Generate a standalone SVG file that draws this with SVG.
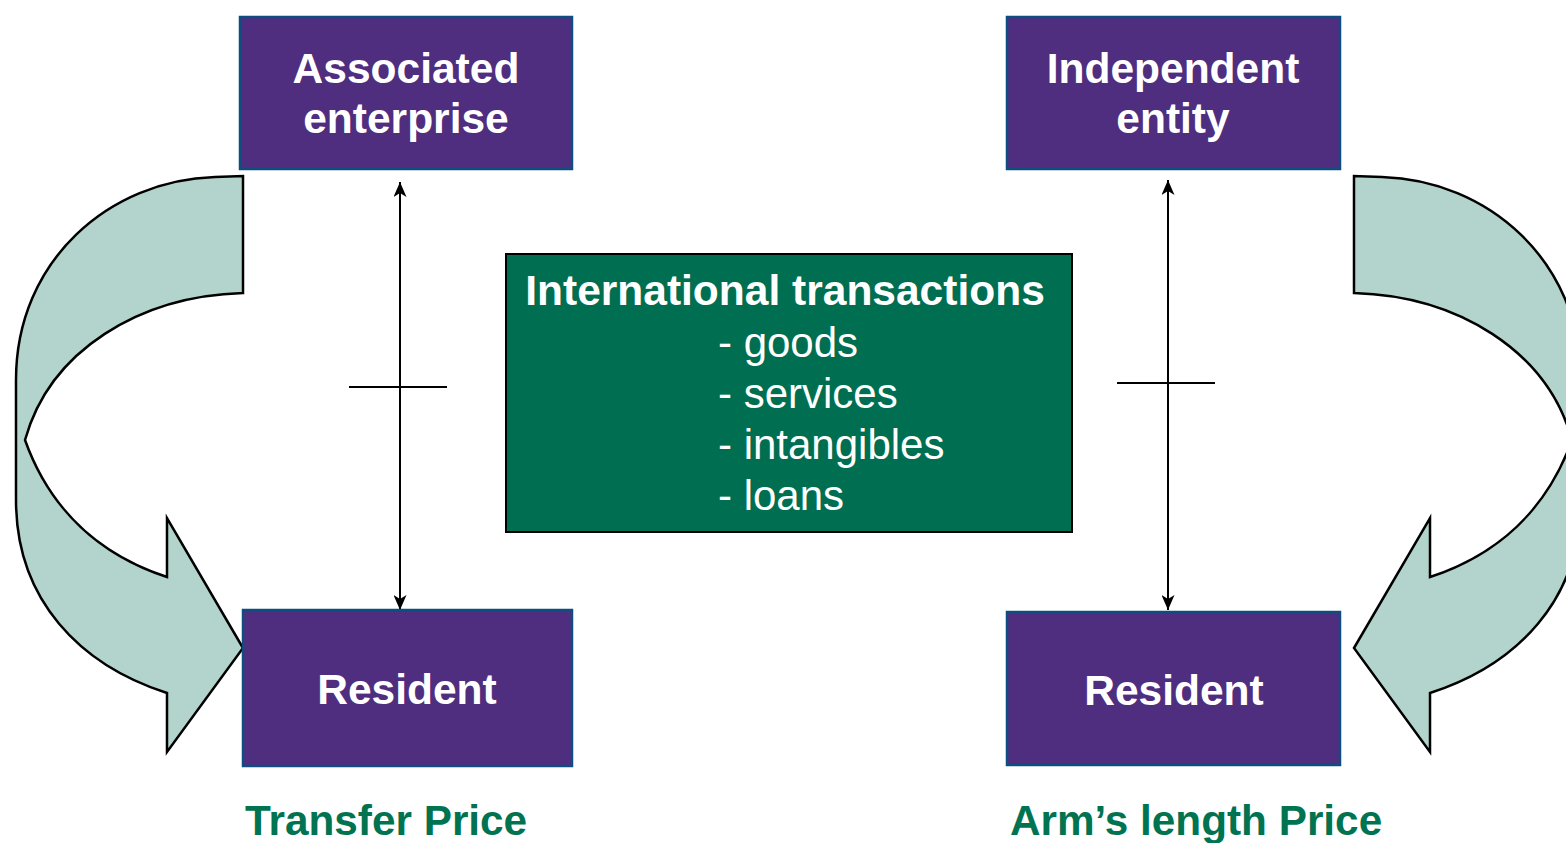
<svg xmlns="http://www.w3.org/2000/svg" width="1566" height="843" viewBox="0 0 1566 843">
<style>
.box{fill:#4F2D7F;stroke:#0E4D80;stroke-width:2.5}
.green{fill:#006F51;stroke:#000;stroke-width:2}
.t{font-family:"Liberation Sans",Arial,sans-serif;font-size:42px;fill:#fff}
.b{font-weight:bold;font-size:42.5px}
.lbl{font-family:"Liberation Sans",Arial,sans-serif;font-size:42.3px;font-weight:bold;fill:#007350}
.curve{fill:#B2D4CC;stroke:#000;stroke-width:2.5;stroke-linejoin:miter}
.conn{stroke:#000;stroke-width:2;fill:none}
</style>
<defs>
<marker id="ah" viewBox="0 0 15 13" refX="15" refY="6.5" markerWidth="15" markerHeight="13" markerUnits="userSpaceOnUse" orient="auto-start-reverse">
<path d="M0,0 L15,6.5 L0,13 L4,6.5 Z" fill="#000"/>
</marker>
<path id="carrow" d="M243,176 L243,293 C140,296 50,350 25,440 C50,510 100,555 167,577 L167,518 L243,648 L167,752 L167,693 C80,665 16,600 16,500 L16,380 C16,260 110,180 215,177 Z"/>
</defs>
<g id="curved-arrows">
<use href="#carrow" class="curve"/>
<use href="#carrow" class="curve" transform="translate(1597,0) scale(-1,1)"/>
</g>
<g id="connectors">
<line class="conn" x1="400" y1="182" x2="400" y2="610" marker-start="url(#ah)" marker-end="url(#ah)"/>
<line class="conn" x1="349" y1="387" x2="447" y2="387"/>
<line class="conn" x1="1168" y1="180" x2="1168" y2="610" marker-start="url(#ah)" marker-end="url(#ah)"/>
<line class="conn" x1="1117" y1="383" x2="1215" y2="383"/>
</g>
<g id="associated-enterprise">
<rect class="box" x="240" y="17" width="332" height="152"/>
<text class="t b" x="406" y="83" text-anchor="middle">Associated</text>
<text class="t b" x="406" y="133" text-anchor="middle">enterprise</text>
</g>
<g id="independent-entity">
<rect class="box" x="1007" y="17" width="333" height="152"/>
<text class="t b" x="1173" y="83" text-anchor="middle">Independent</text>
<text class="t b" x="1173" y="133" text-anchor="middle">entity</text>
</g>
<g id="resident-left">
<rect class="box" x="243" y="610" width="329" height="156"/>
<text class="t b" x="407" y="704" text-anchor="middle">Resident</text>
</g>
<g id="resident-right">
<rect class="box" x="1007" y="612" width="333" height="153"/>
<text class="t b" x="1174" y="705" text-anchor="middle">Resident</text>
</g>
<g id="international-transactions">
<rect class="green" x="506" y="254" width="566" height="278"/>
<text class="t b" x="785" y="305" text-anchor="middle">International transactions</text>
<text class="t" x="718" y="357">- goods</text>
<text class="t" x="718" y="408">- services</text>
<text class="t" x="718" y="459">- intangibles</text>
<text class="t" x="718" y="510">- loans</text>
</g>
<g id="labels">
<text class="lbl" x="245" y="835">Transfer Price</text>
<text class="lbl" x="1010" y="835">Arm’s length Price</text>
</g>
</svg>
